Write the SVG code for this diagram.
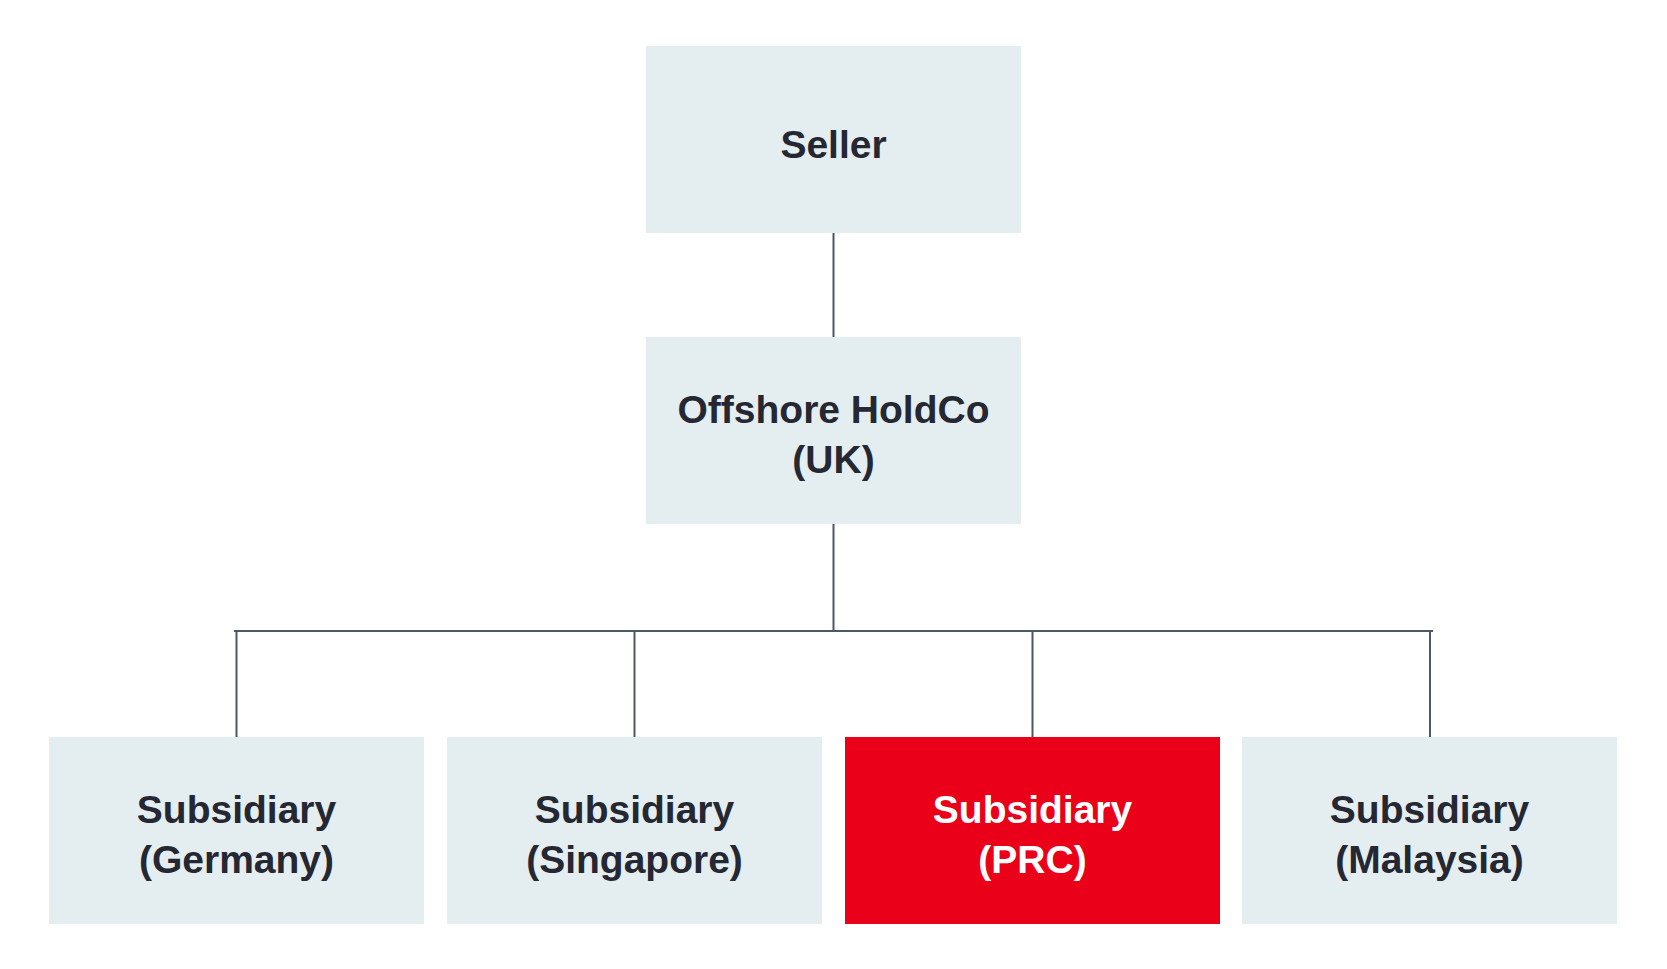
<svg xmlns="http://www.w3.org/2000/svg" width="1667" height="969" viewBox="0 0 1667 969">
<style>
.box{fill:#e4edef}
.red{fill:#ea0019}
.t{font-family:"Liberation Sans",Arial,sans-serif;font-weight:bold;font-size:39px;fill:#252733;text-anchor:middle}
.tw{fill:#ffffff}
.ln{stroke:#4d5766;stroke-width:2;fill:none}
</style>
<rect width="1667" height="969" fill="#ffffff"/>
<g id="connectors">
<line class="ln" x1="833.5" y1="233" x2="833.5" y2="337"/>
<line class="ln" x1="833.5" y1="524" x2="833.5" y2="631"/>
<line class="ln" x1="234" y1="631" x2="1433" y2="631"/>
<line class="ln" x1="236.5" y1="631" x2="236.5" y2="737"/>
<line class="ln" x1="634.5" y1="631" x2="634.5" y2="737"/>
<line class="ln" x1="1032.5" y1="631" x2="1032.5" y2="737"/>
<line class="ln" x1="1430" y1="631" x2="1430" y2="737"/>
</g>
<g id="seller">
<rect class="box" x="646" y="46" width="375" height="187"/>
<text class="t" x="833.5" y="158">Seller</text>
</g>
<g id="holdco">
<rect class="box" x="646" y="337" width="375" height="187"/>
<text class="t" x="833.5" y="423">Offshore HoldCo</text>
<text class="t" x="833.5" y="473">(UK)</text>
</g>
<g id="sub-germany">
<rect class="box" x="49" y="737" width="375" height="187"/>
<text class="t" x="236.5" y="823">Subsidiary</text>
<text class="t" x="236.5" y="873">(Germany)</text>
</g>
<g id="sub-singapore">
<rect class="box" x="447" y="737" width="375" height="187"/>
<text class="t" x="634.5" y="823">Subsidiary</text>
<text class="t" x="634.5" y="873">(Singapore)</text>
</g>
<g id="sub-prc">
<rect class="red" x="845" y="737" width="375" height="187"/>
<text class="t tw" x="1032.5" y="823">Subsidiary</text>
<text class="t tw" x="1032.5" y="873">(PRC)</text>
</g>
<g id="sub-malaysia">
<rect class="box" x="1242" y="737" width="375" height="187"/>
<text class="t" x="1429.5" y="823">Subsidiary</text>
<text class="t" x="1429.5" y="873">(Malaysia)</text>
</g>
</svg>
